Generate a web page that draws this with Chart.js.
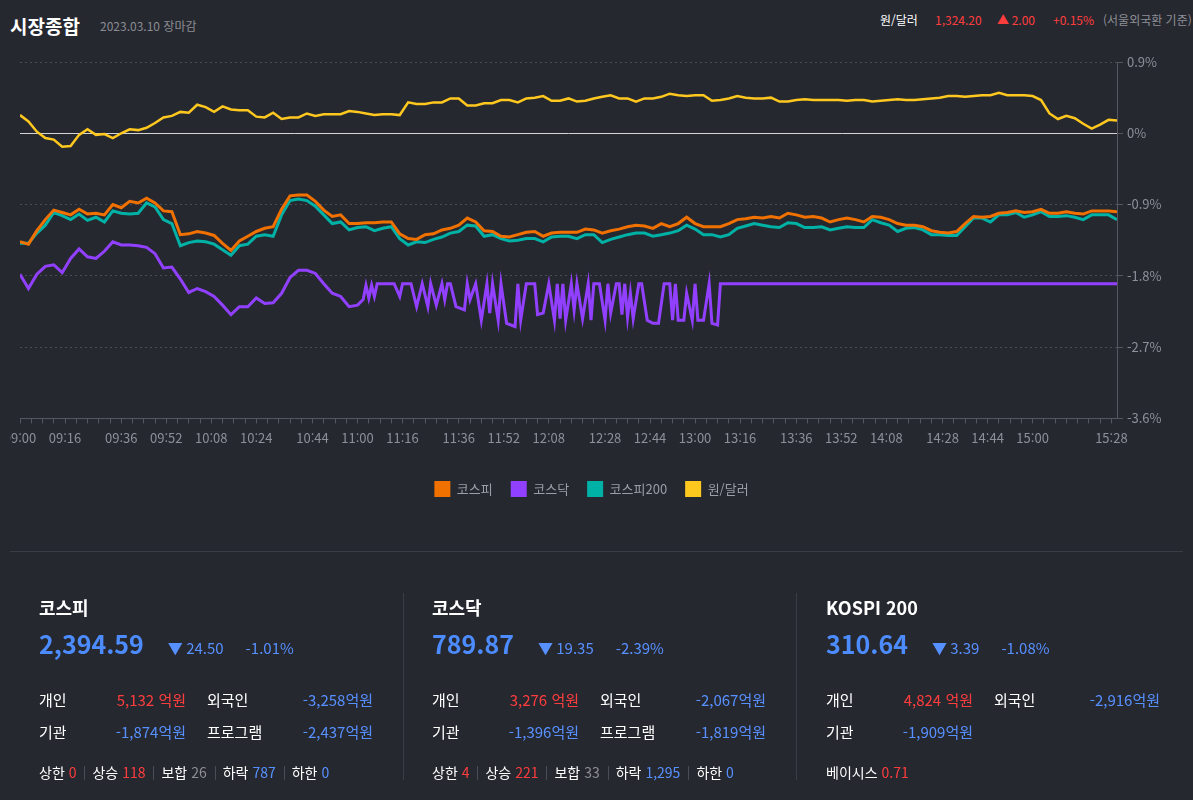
<!DOCTYPE html>
<html lang="ko">
<head>
<meta charset="utf-8">
<title>시장종합</title>
<script src="https://cdn.jsdelivr.net/npm/chart.js@4.4.1/dist/chart.umd.min.js"></script>
<style>
  html, body { margin: 0; padding: 0; }
  body {
    width: 1193px; height: 800px; position: relative; overflow: hidden;
    background: #262830; color: #fff;
    font-family: "Noto Sans CJK KR", "Noto Sans", sans-serif;
  }
  .abs { position: absolute; white-space: nowrap; }
  #title { left: 10px; top: 13px; font-size: 19px; font-weight: bold; line-height: 26px; }
  #date { left: 100px; top: 17px; font-size: 12px; color: #8a8c92; line-height: 18px; }
  .hdr { top: 11px; font-size: 12px; line-height: 18px; }
  .red { color: #ff3d3d; }
  .blue { color: #5790ff; }
  .grey { color: #8d8f95; }
  #chartBox { position: absolute; left: 10px; top: 40px; width: 1173px; height: 475px; }
  #divider { position: absolute; left: 10px; top: 551px; width: 1173px; height: 1px; background: #3a3d46; }
  .vsep { position: absolute; top: 593px; width: 1px; height: 187px; background: #3a3d46; }
  .col { position: absolute; top: 0; width: 360px; height: 800px; }
  .col .name { position: absolute; left: 0; top: 595px; font-size: 18px; font-weight: bold; line-height: 24px; }
  .col .price { position: absolute; left: 0; top: 627px; line-height: 32px; white-space: nowrap; }
  .col .big { font-size: 25px; font-weight: bold; color: #4c8cff; }
  .col .chg { font-size: 15px; color: #5790ff; margin-left: 24px; }
  .col .pct { font-size: 15px; color: #5790ff; margin-left: 22px; }
  .col .row { position: absolute; left: 0; height: 22px; line-height: 22px; font-size: 15px; width: 340px; }
  .col .row span { position: absolute; top: 0; white-space: nowrap; }
  .col .lab1 { left: 0; }
  .col .val1 { right: 193px; }
  .col .lab2 { left: 168px; }
  .col .val2 { right: 6px; }
  .col .stats { position: absolute; left: 0; top: 761px; line-height: 22px; font-size: 14px; white-space: nowrap; }
  .stats .sep { display: inline-block; width: 1px; height: 14px; background: #4a4d55; margin: 0 7px 0 8px; vertical-align: -2px; }
</style>
</head>
<body>
<div id="title" class="abs">시장종합</div>
<div id="date" class="abs">2023.03.10 장마감</div>

<div class="abs hdr" style="left:880px">원/달러</div>
<div class="abs hdr red" style="left:935px">1,324.20</div>
<div class="abs hdr red" style="left:997px">▲ 2.00</div>
<div class="abs hdr red" style="left:1053px">+0.15%</div>
<div class="abs hdr grey" style="left:1103px">(서울외국환 기준)</div>

<div id="chartBox"><canvas id="marketChart"></canvas></div>

<div id="divider"></div>
<div class="vsep" style="left:403px"></div>
<div class="vsep" style="left:796px"></div>

<div class="col" style="left:39px">
  <div class="name">코스피</div>
  <div class="price"><span class="big">2,394.59</span><span class="chg">▼ 24.50</span><span class="pct">-1.01%</span></div>
  <div class="row" style="top:689px"><span class="lab1">개인</span><span class="val1 red">5,132 억원</span><span class="lab2">외국인</span><span class="val2 blue">-3,258억원</span></div>
  <div class="row" style="top:721px"><span class="lab1">기관</span><span class="val1 blue">-1,874억원</span><span class="lab2">프로그램</span><span class="val2 blue">-2,437억원</span></div>
  <div class="stats">상한 <span class="red">0</span><i class="sep"></i>상승 <span class="red">118</span><i class="sep"></i>보합 <span class="grey">26</span><i class="sep"></i>하락 <span class="blue">787</span><i class="sep"></i>하한 <span class="blue">0</span></div>
</div>

<div class="col" style="left:432px">
  <div class="name">코스닥</div>
  <div class="price"><span class="big">789.87</span><span class="chg">▼ 19.35</span><span class="pct">-2.39%</span></div>
  <div class="row" style="top:689px"><span class="lab1">개인</span><span class="val1 red">3,276 억원</span><span class="lab2">외국인</span><span class="val2 blue">-2,067억원</span></div>
  <div class="row" style="top:721px"><span class="lab1">기관</span><span class="val1 blue">-1,396억원</span><span class="lab2">프로그램</span><span class="val2 blue">-1,819억원</span></div>
  <div class="stats">상한 <span class="red">4</span><i class="sep"></i>상승 <span class="red">221</span><i class="sep"></i>보합 <span class="grey">33</span><i class="sep"></i>하락 <span class="blue">1,295</span><i class="sep"></i>하한 <span class="blue">0</span></div>
</div>

<div class="col" style="left:826px">
  <div class="name">KOSPI 200</div>
  <div class="price"><span class="big">310.64</span><span class="chg">▼ 3.39</span><span class="pct">-1.08%</span></div>
  <div class="row" style="top:689px"><span class="lab1">개인</span><span class="val1 red">4,824 억원</span><span class="lab2">외국인</span><span class="val2 blue">-2,916억원</span></div>
  <div class="row" style="top:721px"><span class="lab1">기관</span><span class="val1 blue">-1,909억원</span></div>
  <div class="stats">베이시스 <span class="red">0.71</span></div>
</div>

<script>
// minutes after 09:00
const times = [
  0,3,6,9,12,15,18,21,24,27,30,33,36,39,42,45,48,51,54,57,60,63,66,69,72,75,78,81,84,87,90,93,96,99,
  102,105,108,111,114,117,120,123,126,129,132,135,138,141,144,147,150,153,156,159,162,165,168,171,174,177,180,183,186,189,192,195,198,
  201,204,207,210,213,216,219,222,225,228,231,234,237,240,243,246,249,252,255,258,261,264,267,270,273,276,279,282,285,288,291,294,297,
  300,303,306,309,312,315,318,321,324,327,330,333,336,339,342,345,348,351,354,357,360,363,366,369,372,375,378,381,384,387,390
];

// 코스피 (%)
const kospi = [
  -1.37,-1.40,-1.23,-1.09,-0.97,-1.00,-1.03,-0.96,-1.02,-1.01,-1.03,-0.90,-0.94,-0.86,-0.88,-0.82,-0.88,-0.98,-0.99,-1.28,
  -1.27,-1.24,-1.26,-1.29,-1.39,-1.48,-1.36,-1.30,-1.24,-1.20,-1.18,-0.96,-0.79,-0.78,
  -0.78,-0.86,-0.97,-1.05,-1.03,-1.14,-1.14,-1.13,-1.13,-1.12,-1.12,-1.27,
  -1.33,-1.34,-1.28,-1.27,-1.22,-1.20,-1.16,-1.07,-1.12,-1.23,-1.24,-1.30,-1.31,-1.28,-1.25,-1.24,-1.30,-1.26,-1.25,-1.25,-1.25,
  -1.21,-1.22,-1.26,-1.23,-1.21,-1.18,-1.16,-1.17,-1.20,-1.14,-1.18,-1.14,-1.06,-1.14,-1.18,
  -1.18,-1.18,-1.14,-1.09,-1.08,-1.06,-1.07,-1.05,-1.07,-1.01,-1.03,-1.06,-1.05,-1.07,-1.12,-1.09,-1.07,-1.09,
  -1.12,-1.05,-1.06,-1.09,-1.14,-1.16,-1.16,-1.18,-1.23,-1.25,-1.26,-1.24,-1.14,-1.05,-1.06,-1.05,-1.01,-1.00,-0.98,-1.00,-0.99,
  -0.96,-1.01,-1.01,-0.99,-1.01,-1.02,-0.98,-0.98,-0.98,-0.99
];

// 코스피200 (%)
const kospi200 = [
  -1.39,-1.39,-1.26,-1.16,-1.00,-1.04,-1.09,-1.02,-1.10,-1.06,-1.12,-0.98,-1.01,-1.02,-1.01,-0.88,-0.93,-1.09,-1.14,-1.42,
  -1.38,-1.36,-1.37,-1.40,-1.47,-1.54,-1.42,-1.40,-1.30,-1.28,-1.30,-1.03,-0.85,-0.83,
  -0.85,-0.92,-1.03,-1.14,-1.12,-1.22,-1.19,-1.18,-1.23,-1.20,-1.18,-1.33,
  -1.41,-1.37,-1.38,-1.34,-1.31,-1.26,-1.24,-1.16,-1.17,-1.30,-1.28,-1.33,-1.36,-1.35,-1.33,-1.33,-1.37,-1.31,-1.30,-1.30,-1.33,
  -1.28,-1.28,-1.38,-1.34,-1.31,-1.28,-1.26,-1.26,-1.30,-1.28,-1.26,-1.23,-1.16,-1.21,-1.28,
  -1.28,-1.31,-1.28,-1.20,-1.17,-1.14,-1.16,-1.18,-1.19,-1.13,-1.14,-1.19,-1.19,-1.18,-1.22,-1.20,-1.18,-1.19,
  -1.19,-1.09,-1.13,-1.16,-1.24,-1.20,-1.19,-1.22,-1.28,-1.28,-1.29,-1.29,-1.18,-1.07,-1.07,-1.12,-1.03,-1.03,-1.00,-1.06,-1.03,
  -0.99,-1.05,-1.05,-1.04,-1.06,-1.09,-1.03,-1.03,-1.03,-1.09
];

// 원/달러 (%)
const won = [
  0.23,0.15,0.02,-0.06,-0.08,-0.17,-0.16,-0.02,0.05,-0.02,-0.01,-0.06,0.00,0.05,0.04,0.07,0.13,0.20,0.22,0.27,
  0.26,0.36,0.33,0.27,0.34,0.30,0.29,0.29,0.21,0.20,0.26,0.18,0.20,0.20,
  0.25,0.22,0.24,0.24,0.24,0.28,0.27,0.25,0.23,0.24,0.24,0.23,
  0.39,0.37,0.37,0.39,0.39,0.44,0.44,0.35,0.35,0.38,0.38,0.42,0.42,0.39,0.44,0.45,0.47,0.41,0.41,0.44,0.40,
  0.41,0.44,0.46,0.48,0.44,0.44,0.40,0.44,0.44,0.46,0.50,0.48,0.47,0.48,0.48,
  0.41,0.42,0.44,0.47,0.45,0.44,0.44,0.45,0.40,0.40,0.42,0.43,0.42,0.42,0.42,0.42,0.41,0.42,
  0.42,0.40,0.41,0.42,0.43,0.42,0.42,0.43,0.44,0.45,0.47,0.47,0.46,0.47,0.48,0.48,0.51,0.48,0.48,0.48,0.47,
  0.42,0.25,0.18,0.22,0.19,0.12,0.06,0.11,0.17,0.16
];

// 코스닥: own time points (minutes after 09:00), it jumps a lot after 11:00
const kosdaqTimes = [
  0,3,6,9,12,15,18,21,24,27,30,33,36,39,42,45,48,51,54,57,60,63,66,69,72,75,78,81,84,87,90,93,96,99,102,105,108,111,114,117,120,
  122,123,124,125,126,127,133,135,136,139,
  141,143,145,146,148,150,151,152,153,155,
  158,159,160,162,164,166,167,168,170,171,
  173,176,177,178,180,183,184,186,188,190,
  191,192,193,194,196,197,198,200,202,203,
  204,206,208,209,210,212,213,214,215,216,
  217,218,220,221,223,225,227,229,231,232,
  233,234,236,237,239,240,241,243,245,246,
  248,249,390
];
const kosdaq = [
  -1.78,-1.96,-1.78,-1.68,-1.66,-1.76,-1.58,-1.46,-1.56,-1.58,-1.49,-1.37,-1.41,-1.41,-1.42,-1.44,-1.52,-1.70,-1.69,-1.84,
  -2.01,-1.96,-2.00,-2.06,-2.17,-2.29,-2.19,-2.19,-2.08,-2.15,-2.14,-2.02,-1.82,-1.73,-1.73,-1.77,-1.90,-2.02,-2.06,-2.19,-2.17,
  -2.10,-1.92,-2.08,-1.92,-2.06,-1.90,-1.90,-2.06,-1.90,-1.90,
  -2.19,-1.90,-2.19,-1.90,-2.17,-1.90,-2.10,-1.90,-1.90,-2.19,
  -2.23,-1.90,-2.10,-1.90,-2.36,-1.90,-2.27,-1.90,-2.36,-1.90,
  -2.40,-2.44,-1.90,-2.36,-1.90,-1.90,-2.29,-2.27,-1.90,-2.36,
  -1.90,-2.34,-1.90,-2.36,-1.90,-2.23,-1.90,-2.34,-1.90,-2.36,
  -1.90,-1.90,-2.36,-1.90,-2.27,-1.90,-1.90,-2.29,-1.90,-2.32,
  -2.02,-2.34,-1.90,-1.90,-2.36,-2.40,-2.40,-1.90,-1.90,-2.36,
  -1.90,-2.36,-2.36,-2.02,-2.36,-1.90,-2.36,-2.36,-1.90,-2.40,
  -2.42,-1.90,-1.90
];

const tickLabels = ['09:00','09:16','09:36','09:52','10:08','10:24','10:44','11:00','11:16','11:36','11:52','12:08',
  '12:28','12:44','13:00','13:16','13:36','13:52','14:08','14:28','14:44','15:00','15:28'];

const labelAt = {};
tickLabels.forEach(t => {
  const [h, m] = t.split(':').map(Number);
  labelAt[(h - 9) * 60 + m] = t;
});

function points(xs, ys) {
  return ys.map((v, i) => ({ x: xs[i], y: v }));
}

const axisGrey = '#8b9099';
const lineGrey = '#545760';

const zeroLine = {
  id: 'zeroLine',
  beforeDatasetsDraw(chart) {
    const { ctx, chartArea, scales } = chart;
    const py = Math.round(scales.y.getPixelForValue(0)) + 0.5;
    ctx.save();
    ctx.strokeStyle = '#d4d4d4';
    ctx.lineWidth = 1;
    ctx.beginPath();
    ctx.moveTo(chartArea.left, py);
    ctx.lineTo(chartArea.right, py);
    ctx.stroke();
    ctx.restore();
  }
};

const ctx = document.getElementById('marketChart');
new Chart(ctx, {
  type: 'line',
  data: {
    datasets: [
      { label: '코스피', data: points(times, kospi), borderColor: '#f07100', backgroundColor: '#f07100', borderWidth: 3 },
      { label: '코스닥', data: points(kosdaqTimes, kosdaq), borderColor: '#9240ff', backgroundColor: '#9240ff', borderWidth: 3 },
      { label: '코스피200', data: points(times, kospi200), borderColor: '#00b2a6', backgroundColor: '#00b2a6', borderWidth: 3 },
      { label: '원/달러', data: points(times, won), borderColor: '#ffc81f', backgroundColor: '#ffc81f', borderWidth: 2.5 }
    ]
  },
  options: {
    responsive: true,
    maintainAspectRatio: false,
    animation: false,
    elements: { point: { radius: 0, hoverRadius: 0 }, line: { tension: 0 } },
    layout: { padding: { left: 10, top: 22, right: 20, bottom: 8 } },
    plugins: {
      tooltip: { enabled: false },
      legend: {
        position: 'bottom',
        labels: {
          color: '#9a9ea6',
          font: { family: 'Noto Sans CJK KR', size: 13 },
          boxWidth: 16,
          boxHeight: 16,
          padding: 18,
          generateLabels(chart) {
            return Chart.defaults.plugins.legend.labels.generateLabels(chart)
              .map(l => Object.assign(l, { lineWidth: 0 }));
          }
        }
      }
    },
    scales: {
      x: {
        type: 'linear',
        min: 0,
        max: 390,
        ticks: {
          stepSize: 4,
          includeBounds: false,
          autoSkip: false,
          maxRotation: 0,
          padding: 7,
          color: axisGrey,
          font: { family: 'Noto Sans CJK KR', size: 13 },
          callback: v => labelAt[v] || ''
        },
        grid: { drawOnChartArea: false, drawTicks: true, tickLength: 5, tickColor: lineGrey },
        border: { color: lineGrey },
        afterFit(scale) {
          scale.paddingLeft = 0;
          scale.paddingRight = 0;
          scale.height += 10;
        }
      },
      y: {
        position: 'right',
        min: -3.6,
        max: 0.9,
        ticks: {
          stepSize: 0.9,
          padding: 4,
          color: axisGrey,
          font: { family: 'Noto Sans CJK KR', size: 13 },
          callback: v => Math.abs(v) < 1e-9 ? '0%' : v.toFixed(1) + '%'
        },
        grid: {
          color: c => Math.abs(c.tick.value) < 1e-9 ? 'rgba(0,0,0,0)' : '#4a4d56',
          tickColor: lineGrey,
          tickLength: 6
        },
        border: { color: lineGrey, dash: [2, 3] },
        afterFit(scale) {
          scale.width = 46;
          scale.paddingTop = 0;
          scale.paddingBottom = 0;
        }
      }
    }
  },
  plugins: [zeroLine]
});
</script>
</body>
</html>
